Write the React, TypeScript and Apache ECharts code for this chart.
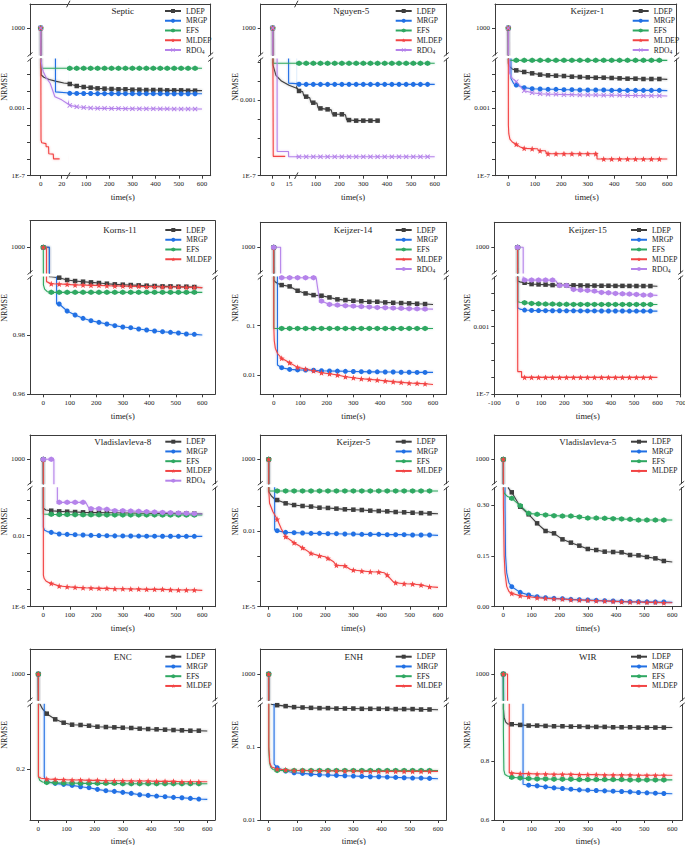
import React, { useEffect, useRef } from "react";
import * as echarts from "echarts";

type Pt = [number, number];
type Method = "LDEP" | "MRGP" | "EFS" | "MLDEP" | "RDO4";

// ---------------- Septic ----------------
const SEPTIC_LDEP: Pt[] = [[0,1000],[0.5,0.095],[3,0.07],[8,0.052],[15,0.04],[22,0.032],[30,0.0279],[60,0.0212],[90,0.0185],[120,0.0169],[150,0.0154],[180,0.0147],[210,0.0141],[240,0.0135],[270,0.0135],[300,0.0128],[330,0.0128],[360,0.0123],[390,0.0123],[420,0.0123],[450,0.0117],[480,0.0117],[510,0.0117],[540,0.0112],[570,0.0112],[600,0.0112]];
const SEPTIC_MRGP: Pt[] = [[0,1000],[0.3,20],[14,20],[14.1,0.0095],[30,0.0078],[60,0.0077],[90,0.0076],[120,0.0076],[150,0.0075],[180,0.0075],[210,0.0075],[240,0.0075],[270,0.0074],[300,0.0074],[330,0.0074],[360,0.0074],[390,0.0074],[420,0.0074],[450,0.0073],[480,0.0073],[510,0.0073],[540,0.0073],[570,0.0073],[600,0.0073]];
const SEPTIC_EFS: Pt[] = [[0,1000],[0.3,0.24],[30,0.24],[60,0.24],[90,0.24],[120,0.24],[150,0.24],[180,0.24],[210,0.24],[240,0.24],[270,0.24],[300,0.24],[330,0.24],[360,0.24],[390,0.24],[420,0.24],[450,0.24],[480,0.24],[510,0.24],[540,0.24],[570,0.24],[600,0.24]];
const SEPTIC_MLDEP: Pt[] = [[0,1000],[0.3,1.3e-5],[1,9e-6],[5,8e-6],[5.2,5.2e-6],[7.5,5.2e-6],[7.7,2e-6],[12,1.9e-6],[12.2,1.0e-6],[18,1.0e-6]];
const SEPTIC_RDO4: Pt[] = [[0,1000],[0.5,0.6],[1.5,0.25],[2.5,0.15],[5,0.07],[9,0.031],[13.5,0.0049],[20,0.0032],[26,0.0018],[30,0.0015],[60,0.00124],[90,0.00113],[120,0.00105],[150,0.001],[180,0.001],[210,0.00098],[240,0.00097],[270,0.00096],[300,0.00095],[330,0.00095],[360,0.00094],[390,0.00094],[420,0.00093],[450,0.00093],[480,0.00092],[510,0.00092],[540,0.00091],[570,0.00091],[600,0.00091]];

// ---------------- Nguyen-5 ----------------
const NGUYEN_LDEP: Pt[] = [[0,1000],[0.3,0.07],[3,0.02],[8,0.01],[15,0.006],[22,0.0042],[30,0.003],[45,0.0028],[50,0.0017],[60,0.0015],[75,0.0013],[80,0.00075],[90,0.00072],[105,0.00068],[110,0.00038],[120,0.00036],[150,0.00032],[165,0.0003],[170,0.000178],[180,0.000175],[210,0.000175],[225,0.000165],[230,0.000088],[240,0.000087],[270,0.000081],[300,0.000081],[330,0.000081],[360,0.000081],[368,0.000081]];
const NGUYEN_MRGP: Pt[] = [[0,1000],[0.3,20],[14.5,20],[14.6,0.0078],[30,0.0068],[60,0.0067],[90,0.0067],[120,0.0067],[150,0.0067],[180,0.0067],[210,0.0067],[240,0.0067],[270,0.0067],[300,0.0067],[330,0.0067],[360,0.0067],[390,0.0067],[420,0.0067],[450,0.0067],[480,0.0067],[510,0.0067],[540,0.0067],[570,0.0067],[600,0.0067]];
const NGUYEN_EFS: Pt[] = [[0,1000],[0.3,0.0867],[30,0.0867],[60,0.0867],[90,0.0867],[120,0.0867],[150,0.0867],[180,0.0867],[210,0.0867],[240,0.0867],[270,0.0867],[300,0.0867],[330,0.0867],[360,0.0867],[390,0.0867],[420,0.0867],[450,0.0867],[480,0.0867],[510,0.0867],[540,0.0867],[570,0.0867],[600,0.0867]];
const NGUYEN_MLDEP: Pt[] = [[0,1000],[0.5,1.05e-6],[11.5,1.05e-6]];
const NGUYEN_RDO4: Pt[] = [[0,1000],[0.3,20],[4,20],[4.1,1.9e-6],[14.5,1.9e-6],[14.6,1.0e-6],[30,1e-6],[60,1e-6],[90,1e-6],[120,1e-6],[150,1e-6],[180,1e-6],[210,1e-6],[240,1e-6],[270,1e-6],[300,1e-6],[330,1e-6],[360,1e-6],[390,1e-6],[420,1e-6],[450,1e-6],[480,1e-6],[510,1e-6],[540,1e-6],[570,1e-6],[600,1e-6]];

// ---------------- Keijzer-1 ----------------
const K1_LDEP: Pt[] = [[0,1000],[0.3,0.45],[5,0.3],[15,0.22],[30,0.18],[60,0.144],[90,0.12],[120,0.1],[150,0.091],[180,0.087],[210,0.083],[240,0.076],[270,0.0727],[300,0.0694],[330,0.0663],[360,0.0663],[390,0.0634],[420,0.0605],[450,0.0578],[480,0.0578],[510,0.0553],[540,0.0553],[570,0.0553],[600,0.0528]];
const K1_MRGP: Pt[] = [[0,1000],[0.3,20],[10,20],[10.1,0.06],[20,0.03],[30,0.0243],[60,0.0169],[90,0.0147],[120,0.0141],[150,0.0135],[180,0.0135],[210,0.0128],[240,0.0128],[270,0.0123],[300,0.0123],[330,0.0123],[360,0.0123],[390,0.0117],[420,0.0117],[450,0.0117],[480,0.0117],[510,0.0117],[540,0.0117],[570,0.0117],[600,0.0112]];
const K1_EFS: Pt[] = [[0,1000],[0.5,0.71],[30,0.71],[60,0.71],[90,0.71],[120,0.71],[150,0.71],[180,0.71],[210,0.71],[240,0.71],[270,0.71],[300,0.71],[330,0.71],[360,0.71],[390,0.71],[420,0.71],[450,0.71],[480,0.71],[510,0.71],[540,0.71],[570,0.71],[600,0.71]];
const K1_MLDEP: Pt[] = [[0,1000],[0.3,1e-4],[2,3e-5],[6,1.5e-5],[15,1e-5],[30,7.3e-6],[45,5e-6],[60,4.2e-6],[90,4e-6],[110,4e-6],[115,3.05e-6],[120,3.05e-6],[140,3.05e-6],[145,2.03e-6],[150,2.03e-6],[180,2.03e-6],[210,2.03e-6],[240,2.03e-6],[270,2.03e-6],[300,2.03e-6],[330,2.03e-6],[334,2.03e-6],[335,9.8e-7],[360,9.8e-7],[390,9.8e-7],[420,9.8e-7],[450,9.8e-7],[480,9.8e-7],[510,9.8e-7],[540,9.8e-7],[570,9.8e-7],[600,9.8e-7]];
const K1_RDO4: Pt[] = [[0,1000],[0.3,20],[5,20],[5.1,0.12],[15,0.06],[30,0.0384],[45,0.02],[60,0.0112],[90,0.0085],[120,0.0074],[150,0.0068],[180,0.0068],[210,0.0065],[240,0.0065],[270,0.0062],[300,0.0062],[330,0.0062],[360,0.006],[390,0.006],[420,0.006],[450,0.0058],[480,0.0058],[510,0.0056],[540,0.0056],[570,0.0056],[600,0.0054]];

// ---------------- Korns-11 ----------------
const KORNS_LDEP: Pt[] = [[0,1000],[23,1000],[23.1,0.9997],[30,0.99966],[60,0.99933],[90,0.99854],[120,0.9982],[150,0.99798],[180,0.99775],[210,0.99753],[240,0.9973],[270,0.99708],[300,0.99697],[330,0.99685],[360,0.99674],[390,0.99663],[420,0.99652],[450,0.9964],[480,0.9964],[510,0.99629],[540,0.99629],[570,0.99618],[600,0.99596]];
const KORNS_MRGP: Pt[] = [[0,1000],[23,1000],[23.1,20],[50,20],[50.1,0.9905],[60,0.99045],[90,0.98809],[120,0.98674],[150,0.98562],[180,0.98483],[210,0.98427],[240,0.98371],[270,0.98315],[300,0.9827],[330,0.98247],[360,0.98202],[390,0.98169],[420,0.98135],[450,0.98112],[480,0.9809],[510,0.98067],[540,0.98034],[570,0.98022],[600,0.98]];
const KORNS_EFS: Pt[] = [[0,1000],[0.5,0.9969],[5,0.9955],[15,0.9946],[30,0.99438],[60,0.99438],[90,0.99438],[120,0.99438],[150,0.99438],[180,0.99438],[210,0.99438],[240,0.99438],[270,0.99438],[300,0.99438],[330,0.99438],[360,0.99438],[390,0.99438],[420,0.99438],[450,0.99438],[480,0.99438],[510,0.99438],[540,0.99438],[570,0.99438],[600,0.99438]];
const KORNS_MLDEP: Pt[] = [[0,1000],[12,1000],[12.1,0.998],[30,0.9973],[60,0.99719],[90,0.99708],[120,0.99685],[150,0.99685],[180,0.99674],[210,0.99674],[240,0.99663],[270,0.99652],[300,0.99652],[330,0.9964],[360,0.9964],[390,0.99629],[420,0.99629],[450,0.99618],[480,0.99618],[510,0.99618],[540,0.99607],[570,0.99607],[600,0.99596]];

// ---------------- Keijzer-14 ----------------
const K14_LDEP: Pt[] = [[0,1000],[0.5,0.84],[5,0.78],[15,0.72],[30,0.667],[60,0.627],[90,0.512],[120,0.452],[150,0.418],[180,0.406],[210,0.375],[240,0.342],[270,0.331],[300,0.321],[330,0.314],[360,0.306],[390,0.306],[420,0.297],[450,0.292],[480,0.288],[510,0.284],[540,0.279],[570,0.275],[600,0.27]];
const K14_MRGP: Pt[] = [[0,1000],[0.3,20],[14,20],[14.1,0.016],[30,0.0141],[60,0.013],[90,0.0127],[120,0.0126],[150,0.0125],[180,0.01225],[210,0.0121],[240,0.012],[270,0.0119],[300,0.0118],[330,0.0117],[360,0.0116],[390,0.0116],[420,0.0115],[450,0.0115],[480,0.0114],[510,0.0114],[540,0.0113],[570,0.0113],[600,0.0113]];
const K14_EFS: Pt[] = [[0,1000],[0.5,0.088],[30,0.088],[60,0.088],[90,0.088],[120,0.088],[150,0.088],[180,0.088],[210,0.088],[240,0.088],[270,0.088],[300,0.088],[330,0.088],[360,0.088],[390,0.088],[420,0.088],[450,0.088],[480,0.088],[510,0.088],[540,0.088],[570,0.088],[600,0.088]];
const K14_MLDEP: Pt[] = [[0,1000],[0.3,0.1],[2,0.05],[6,0.035],[15,0.027],[30,0.0218],[60,0.0178],[90,0.0143],[120,0.0132],[150,0.0122],[180,0.0111],[210,0.0106],[240,0.01],[270,0.00924],[300,0.00882],[330,0.00842],[360,0.00817],[390,0.0079],[420,0.0076],[450,0.00733],[480,0.0071],[510,0.00689],[540,0.00678],[570,0.00667],[600,0.0064]];
const K14_RDO4: Pt[] = [[0,1000],[26,1000],[26.1,0.94],[30,0.94],[60,0.94],[90,0.94],[120,0.94],[150,0.94],[160,0.94],[165,0.6],[172,0.36],[180,0.316],[210,0.27],[240,0.262],[270,0.255],[300,0.25],[330,0.245],[360,0.24],[390,0.235],[420,0.232],[450,0.228],[480,0.225],[510,0.222],[540,0.22],[570,0.218],[600,0.217]];

// ---------------- Keijzer-15 ----------------
const K15_LDEP: Pt[] = [[0,1000],[0.5,0.5],[10,0.45],[30,0.4],[60,0.333],[90,0.318],[120,0.31],[150,0.29],[180,0.29],[210,0.28],[240,0.28],[270,0.275],[300,0.27],[330,0.27],[360,0.265],[390,0.265],[420,0.26],[450,0.26],[480,0.258],[510,0.256],[540,0.255],[570,0.254],[600,0.25]];
const K15_MRGP: Pt[] = [[0,1000],[0.5,0.0133],[10,0.011],[30,0.00966],[60,0.0092],[90,0.009],[120,0.0089],[150,0.0088],[180,0.0088],[210,0.0087],[240,0.0087],[270,0.0086],[300,0.0086],[330,0.0086],[360,0.0085],[390,0.0085],[420,0.0085],[450,0.0085],[480,0.0084],[510,0.0084],[540,0.0084],[570,0.0084],[600,0.0083]];
const K15_EFS: Pt[] = [[0,1000],[0.5,0.03],[10,0.028],[30,0.0262],[60,0.0239],[90,0.0228],[120,0.0218],[150,0.0218],[180,0.0213],[210,0.0213],[240,0.0209],[270,0.0209],[300,0.0209],[330,0.0209],[360,0.0207],[390,0.0207],[420,0.0207],[450,0.0207],[480,0.0206],[510,0.0206],[540,0.0206],[570,0.0206],[600,0.0205]];
const K15_MLDEP: Pt[] = [[0,1000],[0.5,2.2e-6],[17,2.2e-6],[17.1,1.0e-6],[30,1e-6],[60,1e-6],[90,1e-6],[120,1e-6],[150,1e-6],[180,1e-6],[210,1e-6],[240,1e-6],[270,1e-6],[300,1e-6],[330,1e-6],[360,1e-6],[390,1e-6],[420,1e-6],[450,1e-6],[480,1e-6],[510,1e-6],[540,1e-6],[570,1e-6],[600,1e-6]];
const K15_RDO4: Pt[] = [[0,1000],[24,1000],[24.1,0.574],[30,0.574],[60,0.574],[90,0.574],[120,0.574],[150,0.574],[165,0.5],[175,0.3],[180,0.277],[210,0.277],[240,0.161],[270,0.147],[300,0.14],[330,0.128],[360,0.107],[390,0.102],[420,0.093],[450,0.089],[480,0.085],[510,0.0815],[540,0.0745],[570,0.0745],[600,0.071]];

// ---------------- Vladislavleva-8 ----------------
const VL8_LDEP: Pt[] = [[0,1000],[0.5,0.35],[10,0.28],[30,0.256],[60,0.235],[90,0.225],[120,0.216],[150,0.207],[180,0.2],[210,0.2],[240,0.195],[270,0.195],[300,0.19],[330,0.19],[360,0.185],[390,0.185],[420,0.182],[450,0.182],[480,0.18],[510,0.178],[540,0.176],[570,0.174],[600,0.17]];
const VL8_MRGP: Pt[] = [[0,1000],[0.3,0.03],[5,0.02],[15,0.017],[30,0.0154],[60,0.0124],[90,0.0119],[120,0.0114],[150,0.011],[180,0.0105],[210,0.0102],[240,0.01],[270,0.0098],[300,0.0097],[330,0.0096],[360,0.0095],[390,0.0094],[420,0.0094],[450,0.0093],[480,0.0093],[510,0.0092],[540,0.0092],[570,0.0092],[600,0.0091]];
const VL8_EFS: Pt[] = [[0,1000],[0.5,0.166],[30,0.159],[60,0.156],[90,0.154],[120,0.152],[150,0.15],[180,0.149],[210,0.149],[240,0.148],[270,0.148],[300,0.148],[330,0.147],[360,0.147],[390,0.147],[420,0.147],[450,0.146],[480,0.146],[510,0.146],[540,0.146],[570,0.146],[600,0.146]];
const VL8_MLDEP: Pt[] = [[0,1000],[0.3,6e-5],[3,4e-5],[10,2.8e-5],[20,2.3e-5],[30,2.06e-5],[60,1.46e-5],[90,1.34e-5],[120,1.23e-5],[150,1.17e-5],[180,1.13e-5],[210,1.08e-5],[240,1.08e-5],[270,1.03e-5],[300,1.03e-5],[330,9.9e-6],[360,9.9e-6],[390,9.5e-6],[420,9.5e-6],[450,9.5e-6],[480,9.1e-6],[510,8.7e-6],[540,8.7e-6],[570,8.7e-6],[600,8.3e-6]];
const VL8_RDO4: Pt[] = [[0,1000],[30,1000],[40,1000],[40.1,20],[53,20],[53.1,0.755],[60,0.755],[90,0.755],[120,0.755],[150,0.755],[160,0.755],[170,0.4],[180,0.332],[210,0.332],[240,0.305],[270,0.256],[300,0.256],[330,0.245],[360,0.235],[390,0.225],[420,0.215],[450,0.206],[480,0.197],[510,0.189],[540,0.181],[570,0.173],[600,0.166]];

// ---------------- Keijzer-5 ----------------
const K5_LDEP: Pt[] = [[0,1000],[0.3,0.36],[10,0.24],[20,0.19],[30,0.169],[60,0.125],[90,0.107],[120,0.098],[150,0.093],[180,0.084],[210,0.082],[240,0.077],[270,0.0722],[300,0.07],[330,0.068],[360,0.064],[390,0.062],[420,0.06],[450,0.0566],[480,0.055],[510,0.053],[540,0.0515],[570,0.05],[600,0.0485]];
const K5_MRGP: Pt[] = [[0,1000],[0.3,20],[21,20],[21.1,0.011],[30,0.0103],[60,0.00885],[90,0.0086],[120,0.00834],[150,0.00808],[180,0.00808],[210,0.00783],[240,0.00783],[270,0.0076],[300,0.0076],[330,0.00737],[360,0.00737],[390,0.00737],[420,0.00716],[450,0.00716],[480,0.00716],[510,0.00694],[540,0.00694],[570,0.00694],[600,0.00673]];
const K5_EFS: Pt[] = [[0,1000],[0.3,0.385],[30,0.385],[60,0.385],[90,0.385],[120,0.385],[150,0.385],[180,0.385],[210,0.385],[240,0.385],[270,0.385],[300,0.385],[330,0.385],[360,0.385],[390,0.385],[420,0.385],[450,0.385],[480,0.385],[510,0.385],[540,0.385],[570,0.385],[600,0.385]];
const K5_MLDEP: Pt[] = [[0,1000],[0.3,0.4],[3,0.125],[15,0.058],[30,0.029],[45,0.012],[60,0.00596],[90,0.00344],[120,0.00218],[150,0.0013],[180,0.00105],[200,0.00095],[210,0.000825],[230,0.0006],[240,0.000435],[270,0.00042],[290,0.0003],[300,0.000285],[330,0.00026],[360,0.000244],[390,0.000237],[410,0.00022],[420,0.00018],[440,0.0001],[450,0.0000895],[480,0.0000817],[510,0.000079],[540,0.0000724],[570,0.000062],[600,0.0000585]];

// ---------------- Vladislavleva-5 ----------------
const VL5_LDEP: Pt[] = [[0,1000],[0.3,20],[18,20],[18.1,0.35],[30,0.3374],[60,0.295],[90,0.2725],[120,0.2459],[150,0.2233],[180,0.2164],[210,0.1987],[240,0.1889],[270,0.18],[300,0.1702],[330,0.1672],[360,0.1623],[390,0.1613],[420,0.1603],[450,0.1525],[480,0.1515],[510,0.1466],[540,0.1426],[570,0.1348],[600,0.1318]];
const VL5_MRGP: Pt[] = [[0,1000],[0.3,20],[6,20],[6.1,0.3],[8,0.15],[12,0.1],[20,0.07],[30,0.059],[60,0.0423],[90,0.0344],[120,0.0295],[150,0.0266],[180,0.0246],[210,0.0236],[240,0.0216],[270,0.0207],[300,0.0197],[330,0.0187],[360,0.0177],[390,0.0167],[420,0.0157],[450,0.0148],[480,0.0148],[510,0.0143],[540,0.0138],[570,0.0138],[600,0.0128]];
const VL5_EFS: Pt[] = [[0,1000],[0.3,0.345],[3,0.335],[15,0.325],[30,0.3197],[60,0.298],[90,0.2754],[120,0.2725],[150,0.2705],[180,0.2685],[210,0.2675],[240,0.2675],[270,0.2646],[300,0.2616],[330,0.2616],[360,0.2607],[390,0.2597],[420,0.2587],[450,0.2577],[480,0.2557],[510,0.2557],[540,0.2557],[570,0.2557],[600,0.2557]];
const VL5_MLDEP: Pt[] = [[0,1000],[0.3,0.3],[3,0.15],[6,0.1],[12,0.06],[20,0.045],[30,0.0393],[60,0.0325],[90,0.0295],[120,0.0266],[150,0.0246],[180,0.0236],[210,0.0226],[240,0.0207],[270,0.0197],[300,0.0187],[330,0.0177],[360,0.0167],[390,0.0157],[420,0.0148],[450,0.0138],[480,0.0138],[510,0.0128],[540,0.0128],[570,0.0118],[600,0.0118]];

// ---------------- ENC ----------------
const ENC_LDEP: Pt[] = [[0,1000],[0.5,0.4],[3.5,0.33],[15,0.318],[30,0.3086],[60,0.2975],[90,0.2909],[120,0.287],[150,0.2864],[180,0.285],[210,0.2831],[240,0.2824],[270,0.2818],[300,0.2811],[330,0.2805],[360,0.2792],[390,0.2785],[420,0.2779],[450,0.2772],[480,0.2765],[510,0.2759],[540,0.2752],[570,0.2752],[600,0.2746]];
const ENC_MRGP: Pt[] = [[0,1000],[1,20],[21,20],[21.1,0.185],[30,0.1751],[60,0.1719],[90,0.1699],[120,0.1679],[150,0.1653],[180,0.1634],[210,0.1601],[240,0.1575],[270,0.1562],[300,0.1542],[330,0.1522],[360,0.1496],[390,0.1483],[420,0.147],[450,0.1457],[480,0.1444],[510,0.1437],[540,0.1424],[570,0.1411],[600,0.1405]];
const ENC_EFS: Pt[] = [[0,1000],[0.5,0.185],[5,0.178],[15,0.1745],[30,0.1738],[60,0.1732],[90,0.1725],[120,0.1725],[150,0.1719],[180,0.1719],[210,0.1719],[240,0.1719],[270,0.1719],[300,0.1712],[330,0.1712],[360,0.1712],[390,0.1712],[420,0.1712],[450,0.1712],[480,0.1712],[510,0.1712],[540,0.1712],[570,0.1712],[600,0.1712]];
const ENC_MLDEP: Pt[] = [[0,1000],[0.5,0.185],[10,0.182],[30,0.1804],[60,0.1797],[90,0.1791],[120,0.1784],[150,0.1784],[180,0.1778],[210,0.1778],[240,0.1771],[270,0.1771],[300,0.1771],[330,0.1764],[360,0.1764],[390,0.1764],[420,0.1758],[450,0.1758],[480,0.1758],[510,0.1751],[540,0.1751],[570,0.1751],[600,0.1751]];

// ---------------- ENH ----------------
const ENH_LDEP: Pt[] = [[0,1000],[0.3,20],[9,20],[9.1,0.38],[30,0.37],[60,0.359],[90,0.348],[120,0.344],[150,0.34],[180,0.337],[210,0.337],[240,0.333],[270,0.333],[300,0.333],[330,0.33],[360,0.33],[390,0.33],[420,0.33],[450,0.327],[480,0.327],[510,0.327],[540,0.323],[570,0.323],[600,0.32]];
const ENH_MRGP: Pt[] = [[0,1000],[0.3,20],[19,20],[19.1,0.058],[30,0.0518],[60,0.0466],[90,0.0442],[120,0.0433],[150,0.0423],[180,0.0415],[210,0.0411],[240,0.0407],[270,0.0402],[300,0.0398],[330,0.0394],[360,0.039],[390,0.039],[420,0.0386],[450,0.0382],[480,0.0378],[510,0.0374],[540,0.0374],[570,0.037],[600,0.0366]];
const ENH_EFS: Pt[] = [[0,1000],[0.3,0.09],[3,0.06],[8,0.052],[15,0.049],[30,0.0475],[60,0.0475],[90,0.0475],[120,0.0475],[150,0.0475],[180,0.0475],[210,0.0475],[240,0.0475],[270,0.0475],[300,0.0475],[330,0.0475],[360,0.0475],[390,0.0475],[420,0.0475],[450,0.0475],[480,0.0475],[510,0.0475],[540,0.0475],[570,0.0475],[600,0.0475]];
const ENH_MLDEP: Pt[] = [[0,1000],[0.3,0.1],[4,0.06],[10,0.053],[30,0.0496],[60,0.0486],[90,0.0475],[120,0.0475],[150,0.047],[180,0.047],[210,0.0466],[240,0.0466],[270,0.0466],[300,0.0466],[330,0.0461],[360,0.0461],[390,0.0461],[420,0.0461],[450,0.0461],[480,0.0461],[510,0.0461],[540,0.0461],[570,0.0461],[600,0.0461]];

// ---------------- WIR ----------------
const WIR_LDEP: Pt[] = [[0,1000],[0.3,0.98],[3,0.95],[8,0.935],[15,0.928],[30,0.9266],[60,0.9243],[90,0.922],[120,0.922],[150,0.9209],[180,0.9198],[210,0.9198],[240,0.9187],[270,0.9187],[300,0.9175],[330,0.9175],[360,0.9175],[390,0.9164],[420,0.9164],[450,0.9164],[480,0.9153],[510,0.9153],[540,0.9153],[570,0.9153],[600,0.9153]];
const WIR_MRGP: Pt[] = [[0,1000],[2,20],[70,20],[70.1,0.722],[90,0.7187],[120,0.7164],[150,0.713],[180,0.7096],[210,0.7074],[240,0.7051],[270,0.7028],[300,0.7017],[330,0.7006],[360,0.6994],[390,0.6983],[420,0.6972],[450,0.696],[480,0.6938],[510,0.6927],[540,0.6915],[570,0.6904],[600,0.6893]];
const WIR_EFS: Pt[] = [[0,1000],[0.3,0.9],[2,0.77],[6,0.755],[15,0.75],[30,0.7458],[60,0.7435],[90,0.7412],[120,0.7401],[150,0.7401],[180,0.739],[210,0.739],[240,0.739],[270,0.7378],[300,0.7378],[330,0.7378],[360,0.7378],[390,0.7378],[420,0.7378],[450,0.7367],[480,0.7367],[510,0.7367],[540,0.7367],[570,0.7367],[600,0.7367]];
const WIR_MLDEP: Pt[] = [[0,1000],[15,1000],[15.1,20],[21,20],[21.1,0.7605],[30,0.7605],[60,0.7582],[90,0.7582],[120,0.7571],[150,0.7571],[180,0.756],[210,0.756],[240,0.756],[270,0.7548],[300,0.7548],[330,0.7548],[360,0.7537],[390,0.7537],[420,0.7537],[450,0.7537],[480,0.7525],[510,0.7525],[540,0.7525],[570,0.7525],[600,0.7525]];

// ---------------- axis tick lists ----------------
const X_TICKS = [0, 100, 200, 300, 400, 500, 600];
const X_TICKS_WIDE = [-100, 0, 100, 200, 300, 400, 500, 600, 700];
const X_TICKS_RIGHT = [100, 200, 300, 400, 500, 600];
const SEPTIC_X_LEFT = [0, 20];
const NGUYEN_X_LEFT = [0, 15];

// ---------------- styles ----------------
const FONT = "'Liberation Serif', 'DejaVu Serif', serif";
const FRAME = "#3c3c3c";
const COLORS: Record<Method, string> = { LDEP: "#3e3e3e", MRGP: "#2170e4", EFS: "#2fa862", MLDEP: "#f24444", RDO4: "#b583ea" };
const HALO: Record<Method, string> = {
  LDEP: "rgba(62,62,62,0.4)", MRGP: "rgba(33,112,228,0.4)", EFS: "rgba(47,168,98,0.4)",
  MLDEP: "rgba(242,68,68,0.4)", RDO4: "rgba(181,131,234,0.4)",
};
const HEX = "path://M0,-1L0.866,-0.5L0.866,0.5L0,1L-0.866,0.5L-0.866,-0.5Z";
const STAR = "path://M0,-1L0.247,-0.34L0.951,-0.309L0.399,0.13L0.588,0.809L0,0.42L-0.588,0.809L-0.399,0.13L-0.951,-0.309L-0.247,-0.34Z";
const CROSS = "path://M-1,-0.72L-0.72,-1L0,-0.28L0.72,-1L1,-0.72L0.28,0L1,0.72L0.72,1L0,0.28L-0.72,1L-1,0.72L-0.28,0Z";
const SYMBOL: Record<string, string> = { LDEP: "rect", MRGP: "circle", EFS: HEX, MLDEP: STAR, hex: HEX, x: CROSS };
const SIZE: Record<string, number> = { LDEP: 4.5, MRGP: 5, EFS: 5.5, MLDEP: 6, hex: 5.5, x: 5 };

interface SeriesCfg { m: Method; d: Pt[]; rdo?: "x" | "hex" }
interface PanelCfg {
  title: string; tx: number; ty: number;
  l: number; r: number; t: number; b: number; yb: number; y1000: number;
  log: boolean; dec?: number; yMin: number; yMax: number; yTicks: number[]; yLabels: number[];
  xMin: number; xMax: number; xTicks: number[];
  split?: { x: number; lMin: number; lMax: number; lTicks: number[]; rMin: number };
  lx: number; ly: number; nx: number; ny: number; xnx: number; xny: number;
  series: SeriesCfg[];
}

const five = (a: Pt[], b: Pt[], c: Pt[], d: Pt[], e: Pt[] | null, rdo: "x" | "hex"): SeriesCfg[] => {
  const out: SeriesCfg[] = [{ m: "LDEP", d: a }, { m: "MRGP", d: b }, { m: "EFS", d: c }, { m: "MLDEP", d: d }];
  if (e) out.push({ m: "RDO4", d: e, rdo });
  return out;
};

const PANELS: PanelCfg[] = [
  { title: "Septic", tx: 122.7, ty: 11, l: 30, r: 210.7, t: 4, b: 175.7, yb: 57, y1000: 28,
    log: true, yMin: -7, yMax: -0.07, yTicks: [-7, -6, -5, -4, -3, -2, -1], yLabels: [-7, -3],
    xMin: 25.86, xMax: 637.5, xTicks: X_TICKS_RIGHT,
    split: { x: 68.3, lMin: -10.19, lMax: 25.81, lTicks: SEPTIC_X_LEFT, rMin: 25.86 },
    lx: 164, ly: 11, nx: 4, ny: 87, xnx: 122.7, xny: 197,
    series: five(SEPTIC_LDEP, SEPTIC_MRGP, SEPTIC_EFS, SEPTIC_MLDEP, SEPTIC_RDO4, "x") },
  { title: "Nguyen-5", tx: 351.3, ty: 11, l: 260.7, r: 446.3, t: 4, b: 175.7, yb: 57, y1000: 28,
    log: true, yMin: -7, yMax: -0.834, yTicks: [-7, -6, -5, -4, -3, -2, -1], yLabels: [-7, -3],
    xMin: 20.6, xMax: 648.7, xTicks: X_TICKS_RIGHT,
    split: { x: 296.3, lMin: -11.0, lMax: 21.19, lTicks: NGUYEN_X_LEFT, rMin: 20.6 },
    lx: 394.7, ly: 11, nx: 235.5, ny: 87, xnx: 353, xny: 197,
    series: five(NGUYEN_LDEP, NGUYEN_MRGP, NGUYEN_EFS, NGUYEN_MLDEP, NGUYEN_RDO4, "x") },
  { title: "Keijzer-1", tx: 587.3, ty: 11, l: 495, r: 676.7, t: 4, b: 175.7, yb: 57, y1000: 28,
    log: true, yMin: -7, yMax: -0.07, yTicks: [-7, -6, -5, -4, -3, -2, -1], yLabels: [-7, -3],
    xMin: -50.2, xMax: 635.5, xTicks: X_TICKS,
    lx: 631.7, ly: 11, nx: 467.5, ny: 87, xnx: 586.7, xny: 197,
    series: five(K1_LDEP, K1_MRGP, K1_EFS, K1_MLDEP, K1_RDO4, "x") },

  { title: "Korns-11", tx: 120, ty: 230, l: 30, r: 215, t: 220.7, b: 394.3, yb: 275, y1000: 247.3,
    log: false, dec: 2, yMin: 0.96, yMax: 0.99956, yTicks: [0.96, 0.98], yLabels: [0.96, 0.98],
    xMin: -50.2, xMax: 648, xTicks: X_TICKS,
    lx: 164.3, ly: 230, nx: 4, ny: 308, xnx: 122.7, xny: 415.7,
    series: five(KORNS_LDEP, KORNS_MRGP, KORNS_EFS, KORNS_MLDEP, null, "x") },
  { title: "Keijzer-14", tx: 353, ty: 230, l: 260.3, r: 446.3, t: 222.3, b: 394.3, yb: 275, y1000: 247.3,
    log: true, yMin: -2.391, yMax: -0.012, yTicks: [-2, -1], yLabels: [-2, -1],
    xMin: -50.5, xMax: 650, xTicks: X_TICKS,
    lx: 394.7, ly: 230, nx: 235.5, ny: 308, xnx: 353.3, xny: 415.7,
    series: five(K14_LDEP, K14_MRGP, K14_EFS, K14_MLDEP, K14_RDO4, "hex") },
  { title: "Keijzer-15", tx: 587.7, ty: 230, l: 494.3, r: 680.7, t: 222.3, b: 394.3, yb: 275, y1000: 247.3,
    log: true, yMin: -7, yMax: -0.059, yTicks: [-7, -6, -5, -4, -3, -2, -1], yLabels: [-7, -3],
    xMin: -100, xMax: 700, xTicks: X_TICKS_WIDE,
    lx: 630, ly: 230, nx: 467.5, ny: 308, xnx: 587.7, xny: 415.7,
    series: five(K15_LDEP, K15_MRGP, K15_EFS, K15_MLDEP, K15_RDO4, "hex") },

  { title: "Vladislavleva-8", tx: 122.7, ty: 441.7, l: 30, r: 215, t: 435, b: 606.7, yb: 485.7, y1000: 459.3,
    log: true, yMin: -6, yMax: 0.704, yTicks: [-6, -5, -4, -3, -2, -1, 0], yLabels: [-6, -2],
    xMin: -50.2, xMax: 648, xTicks: X_TICKS,
    lx: 164.3, ly: 441.7, nx: 4, ny: 521.7, xnx: 122.7, xny: 627.7,
    series: five(VL8_LDEP, VL8_MRGP, VL8_EFS, VL8_MLDEP, VL8_RDO4, "hex") },
  { title: "Keijzer-5", tx: 353.3, ty: 441.7, l: 260.3, r: 446.3, t: 435, b: 606.7, yb: 485.7, y1000: 459.3,
    log: true, yMin: -5, yMax: -0.284, yTicks: [-5, -4, -3, -2, -1], yLabels: [-5, -2],
    xMin: -29.8, xMax: 629.4, xTicks: X_TICKS,
    lx: 394.7, ly: 441.7, nx: 235.5, ny: 521.7, xnx: 353.3, xny: 627.7,
    series: five(K5_LDEP, K5_MRGP, K5_EFS, K5_MLDEP, null, "x") },
  { title: "Vladislavleva-5", tx: 587.7, ty: 441.7, l: 494.3, r: 681.7, t: 435, b: 606.7, yb: 485.7, y1000: 459.3,
    log: false, dec: 2, yMin: 0, yMax: 0.351, yTicks: [0, 0.15, 0.3], yLabels: [0, 0.15, 0.3],
    xMin: -32, xMax: 633.4, xTicks: X_TICKS,
    lx: 630, ly: 441.7, nx: 467.5, ny: 521.7, xnx: 587.7, xny: 627.7,
    series: five(VL5_LDEP, VL5_MRGP, VL5_EFS, VL5_MLDEP, null, "x") },

  { title: "ENC", tx: 122.7, ty: 656.7, l: 30, r: 215, t: 649, b: 820, yb: 702.3, y1000: 674,
    log: false, dec: 1, yMin: 0.1, yMax: 0.327, yTicks: [0.2], yLabels: [0.2],
    xMin: -29.5, xMax: 627.4, xTicks: X_TICKS,
    lx: 164.3, ly: 656.7, nx: 4, ny: 735, xnx: 122.7, xny: 841.2,
    series: five(ENC_LDEP, ENC_MRGP, ENC_EFS, ENC_MLDEP, null, "x") },
  { title: "ENH", tx: 353.7, ty: 656.7, l: 260.3, r: 446.3, t: 649, b: 820, yb: 702.3, y1000: 674,
    log: true, yMin: -2, yMax: -0.42, yTicks: [-2, -1], yLabels: [-2, -1],
    xMin: -29.8, xMax: 629.4, xTicks: X_TICKS,
    lx: 394.7, ly: 656.7, nx: 235.5, ny: 735, xnx: 353.7, xny: 841.2,
    series: five(ENH_LDEP, ENH_MRGP, ENH_EFS, ENH_MLDEP, null, "x") },
  { title: "WIR", tx: 587.7, ty: 656.7, l: 494.3, r: 682.3, t: 649, b: 820, yb: 702.3, y1000: 674,
    log: false, dec: 1, yMin: 0.6, yMax: 0.9946, yTicks: [0.6, 0.8], yLabels: [0.6, 0.8],
    xMin: -32, xMax: 635.5, xTicks: X_TICKS,
    lx: 630, ly: 656.7, nx: 467.5, ny: 735, xnx: 587.7, xny: 841.2,
    series: five(WIR_LDEP, WIR_MRGP, WIR_EFS, WIR_MLDEP, null, "x") },
];

function fmtLog(e: number): string {
  const r = Math.round(e);
  if (r >= 0) return String(Math.pow(10, r));
  if (r >= -3) return Math.pow(10, r).toFixed(-r);
  return "1E" + r;
}

const AXIS_LINE = { show: true, onZero: false, lineStyle: { color: FRAME, width: 1 } };
const TICK_LINE = { color: FRAME, width: 1 };
const LABEL = { fontSize: 7, fontFamily: FONT, color: "#222", margin: 5 };

function makeSeries(p: PanelCfg, s: SeriesCfg, pi: number, xi: number, yi: number, isTop: boolean) {
  const key = s.m === "RDO4" ? (s.rdo || "x") : s.m;
  const tf = (v: number) => (!isTop && p.log ? Math.log10(v) : v);
  return {
    type: "line",
    name: `${s.m}#${pi}`,
    xAxisIndex: xi,
    yAxisIndex: yi,
    data: s.d.map(([t, v]) => {
      const mark = t % 30 === 0 && t <= 570;
      return mark ? { value: [t, tf(v)] } : { value: [t, tf(v)], symbol: "none" };
    }),
    symbol: SYMBOL[key],
    symbolSize: SIZE[key],
    showSymbol: true,
    clip: true,
    silent: true,
    animation: false,
    lineStyle: { color: COLORS[s.m], width: 1.1, shadowColor: HALO[s.m], shadowBlur: 2.5 },
    itemStyle: { color: COLORS[s.m], borderWidth: 0 },
    emphasis: { disabled: true },
  };
}

function buildOption() {
  const grid: any[] = [];
  const xAxis: any[] = [];
  const yAxis: any[] = [];
  const series: any[] = [];
  const legend: any[] = [];
  const g: any[] = [];
  const line = (x1: number, y1: number, x2: number, y2: number) => ({
    type: "line", z: 30, silent: true, shape: { x1, y1, x2, y2 }, style: { stroke: FRAME, lineWidth: 1 },
  });
  const text = (x: number, y: number, str: string, size: number, rot = 0) => ({
    type: "text", z: 30, silent: true, x, y, rotation: rot,
    style: { text: str, fontSize: size, fontFamily: FONT, fill: "#222", align: "center", verticalAlign: "middle", textAlign: "center", textVerticalAlign: "middle" },
  });

  PANELS.forEach((p, pi) => {
    const cols = p.split
      ? [
          { l: p.l, r: p.split.x - 0.5, min: p.split.lMin, max: p.split.lMax, ticks: p.split.lTicks, first: true, last: false },
          { l: p.split.x + 0.5, r: p.r, min: p.split.rMin, max: p.xMax, ticks: p.xTicks, first: false, last: true },
        ]
      : [{ l: p.l, r: p.r, min: p.xMin, max: p.xMax, ticks: p.xTicks, first: true, last: true }];
    const topMin = 1000 - 20 * (p.yb - 2 - p.y1000);
    const topMax = 1000 + 20 * (p.y1000 - p.t);
    for (const isTop of [true, false]) {
      for (const c of cols) {
        const gi = grid.length;
        const gTop = isTop ? p.t : p.yb + 2;
        const gBot = isTop ? p.yb - 2 : p.b;
        grid.push({ left: c.l, top: gTop, width: c.r - c.l, height: gBot - gTop, containLabel: false, outerBoundsMode: "none" });
        xAxis.push({
          gridIndex: gi, type: "value", min: c.min, max: c.max, position: isTop ? "top" : "bottom",
          axisLine: AXIS_LINE,
          axisTick: isTop ? { show: false } : { show: true, length: 3, lineStyle: TICK_LINE, customValues: c.ticks },
          axisLabel: isTop ? { show: false } : { ...LABEL, customValues: c.ticks, formatter: (v: number) => String(v) },
          splitLine: { show: false },
        });
        const xi = xAxis.length - 1;
        yAxis.push({
          gridIndex: gi, type: "value",
          min: isTop ? topMin : p.yMin, max: isTop ? topMax : p.yMax,
          position: "left", show: c.first,
          axisLine: AXIS_LINE,
          axisTick: { show: true, length: 3, lineStyle: TICK_LINE, customValues: isTop ? [1000] : p.yTicks },
          axisLabel: {
            ...LABEL,
            customValues: isTop ? [1000] : p.yLabels,
            formatter: (v: number) => (isTop ? String(v) : p.log ? fmtLog(v) : v.toFixed(p.dec || 0)),
          },
          splitLine: { show: false },
        });
        const yi = yAxis.length - 1;
        if (c.last) {
          yAxis.push({
            gridIndex: gi, type: "value", min: 0, max: 1, position: "right",
            axisLine: AXIS_LINE, axisTick: { show: false }, axisLabel: { show: false }, splitLine: { show: false },
          });
        }
        p.series.forEach((s) => series.push(makeSeries(p, s, pi, xi, yi, isTop)));
      }
    }

    legend.push({
      left: p.lx, top: p.ly - 4.875, orient: "vertical", padding: 0, itemGap: 0,
      itemWidth: 16, itemHeight: 5, selectedMode: false,
      data: p.series.map((s) => `${s.m}#${pi}`),
      formatter: (n: string) => {
        const base = n.split("#")[0];
        return base === "RDO4" ? "RDO{sub|4}" : base;
      },
      textStyle: {
        fontSize: 7.5, fontFamily: FONT, color: "#222", lineHeight: 9.75,
        rich: { sub: { fontSize: 5.5, lineHeight: 6.75, padding: [3, 0, 0, 0], fontFamily: FONT, color: "#222" } },
      },
    });

    g.push(text(p.tx, p.ty, p.title, 9));
    g.push(text(p.nx, p.ny, "NRMSE", 8, Math.PI / 2));
    g.push(text(p.xnx, p.xny, "time(s)", 8.5));
    for (const x of [p.l, p.r]) {
      g.push(line(x - 2.5, p.yb - 0.5, x + 2.5, p.yb - 4.5));
      g.push(line(x - 2.5, p.yb + 4.5, x + 2.5, p.yb + 0.5));
    }
    if (p.split) {
      const sx = p.split.x;
      for (const y of [p.t, p.b]) g.push(line(sx - 1.7, y + 3.3, sx + 1.7, y - 3.3));
    }
  });

  return {
    animation: false,
    backgroundColor: "#ffffff",
    textStyle: { fontFamily: FONT },
    grid, xAxis, yAxis, series, legend,
    graphic: { elements: g },
  };
}

export default function App() {
  const ref = useRef<HTMLDivElement>(null);
  useEffect(() => {
    if (!ref.current) return;
    const chart = echarts.init(ref.current, null, { renderer: "svg", width: 685, height: 845 });
    chart.setOption(buildOption() as any);
    return () => chart.dispose();
  }, []);
  return <div ref={ref} style={{ position: "absolute", left: 0, top: 0, width: 685, height: 845, background: "#fff" }} />;
}
